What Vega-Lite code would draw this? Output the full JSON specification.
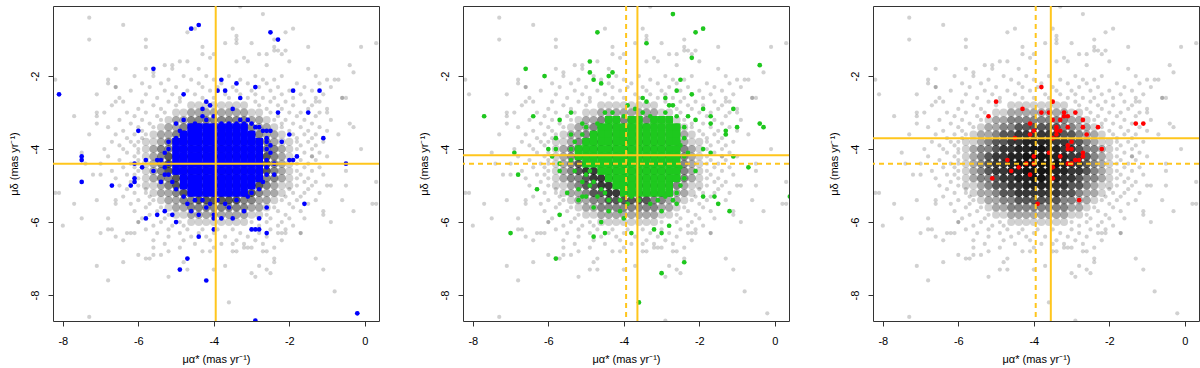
{
"$schema":"https://vega.github.io/schema/vega-lite/v6.json",
"background":"white",
"padding":{"left":7,"top":5,"right":2,"bottom":1},
"datasets":{
"vl":[{"p":1,"x":-3.95,"s":"solid"},{"p":2,"x":-3.64,"s":"solid"},{"p":2,"x":-3.94,"s":"dashed"},{"p":3,"x":-3.55,"s":"solid"},{"p":3,"x":-3.95,"s":"dashed"}],
"hl":[{"p":1,"y":-4.4,"s":"solid"},{"p":2,"y":-4.17,"s":"solid"},{"p":2,"y":-4.4,"s":"dashed"},{"p":3,"y":-3.7,"s":"solid"},{"p":3,"y":-4.4,"s":"dashed"}],
"gs":[
{"x":-4.6,"y":-2.8,"n":1},{"x":-4.4,"y":-2.8,"n":1},{"x":-4.2,"y":-2.8,"n":1},{"x":-4.0,"y":-2.8,"n":1},{"x":-3.8,"y":-2.8,"n":1},{"x":-3.6,"y":-2.8,"n":1},{"x":-3.4,"y":-2.8,"n":1},{"x":-3.2,"y":-2.8,"n":1},
{"x":-5.0,"y":-3.0,"n":1},{"x":-4.8,"y":-3.0,"n":1},{"x":-4.6,"y":-3.0,"n":2},{"x":-4.4,"y":-3.0,"n":2},{"x":-4.2,"y":-3.0,"n":2},{"x":-4.0,"y":-3.0,"n":2},{"x":-3.8,"y":-3.0,"n":2},{"x":-3.6,"y":-3.0,"n":2},{"x":-3.4,"y":-3.0,"n":2},{"x":-3.2,"y":-3.0,"n":2},{"x":-3.0,"y":-3.0,"n":1},{"x":-2.8,"y":-3.0,"n":1},
{"x":-5.2,"y":-3.2,"n":1},{"x":-5.0,"y":-3.2,"n":2},{"x":-4.8,"y":-3.2,"n":2},{"x":-4.6,"y":-3.2,"n":3},{"x":-4.4,"y":-3.2,"n":3},{"x":-4.2,"y":-3.2,"n":3},{"x":-4.0,"y":-3.2,"n":3},{"x":-3.8,"y":-3.2,"n":3},{"x":-3.6,"y":-3.2,"n":3},{"x":-3.4,"y":-3.2,"n":3},{"x":-3.2,"y":-3.2,"n":3},{"x":-3.0,"y":-3.2,"n":2},{"x":-2.8,"y":-3.2,"n":2},{"x":-2.6,"y":-3.2,"n":1},
{"x":-5.4,"y":-3.4,"n":1},{"x":-5.2,"y":-3.4,"n":2},{"x":-5.0,"y":-3.4,"n":2},{"x":-4.8,"y":-3.4,"n":3},{"x":-4.6,"y":-3.4,"n":3},{"x":-4.4,"y":-3.4,"n":5},{"x":-4.2,"y":-3.4,"n":5},{"x":-4.0,"y":-3.4,"n":5},{"x":-3.8,"y":-3.4,"n":5},{"x":-3.6,"y":-3.4,"n":5},{"x":-3.4,"y":-3.4,"n":5},{"x":-3.2,"y":-3.4,"n":3},{"x":-3.0,"y":-3.4,"n":3},{"x":-2.8,"y":-3.4,"n":2},{"x":-2.6,"y":-3.4,"n":2},{"x":-2.4,"y":-3.4,"n":1},
{"x":-5.6,"y":-3.6,"n":1},{"x":-5.4,"y":-3.6,"n":2},{"x":-5.2,"y":-3.6,"n":2},{"x":-5.0,"y":-3.6,"n":3},{"x":-4.8,"y":-3.6,"n":5},{"x":-4.6,"y":-3.6,"n":5},{"x":-4.4,"y":-3.6,"n":7},{"x":-4.2,"y":-3.6,"n":7},{"x":-4.0,"y":-3.6,"n":7},{"x":-3.8,"y":-3.6,"n":7},{"x":-3.6,"y":-3.6,"n":7},{"x":-3.4,"y":-3.6,"n":7},{"x":-3.2,"y":-3.6,"n":5},{"x":-3.0,"y":-3.6,"n":5},{"x":-2.8,"y":-3.6,"n":3},{"x":-2.6,"y":-3.6,"n":2},{"x":-2.4,"y":-3.6,"n":2},{"x":-2.2,"y":-3.6,"n":1},
{"x":-5.8,"y":-3.8,"n":1},{"x":-5.6,"y":-3.8,"n":1},{"x":-5.4,"y":-3.8,"n":2},{"x":-5.2,"y":-3.8,"n":3},{"x":-5.0,"y":-3.8,"n":5},{"x":-4.8,"y":-3.8,"n":5},{"x":-4.6,"y":-3.8,"n":7},{"x":-4.4,"y":-3.8,"n":7},{"x":-4.2,"y":-3.8,"n":9},{"x":-4.0,"y":-3.8,"n":9},{"x":-3.8,"y":-3.8,"n":9},{"x":-3.6,"y":-3.8,"n":9},{"x":-3.4,"y":-3.8,"n":7},{"x":-3.2,"y":-3.8,"n":7},{"x":-3.0,"y":-3.8,"n":5},{"x":-2.8,"y":-3.8,"n":5},{"x":-2.6,"y":-3.8,"n":3},{"x":-2.4,"y":-3.8,"n":2},{"x":-2.2,"y":-3.8,"n":1},{"x":-2.0,"y":-3.8,"n":1},
{"x":-5.8,"y":-4.0,"n":1},{"x":-5.6,"y":-4.0,"n":2},{"x":-5.4,"y":-4.0,"n":3},{"x":-5.2,"y":-4.0,"n":3},{"x":-5.0,"y":-4.0,"n":5},{"x":-4.8,"y":-4.0,"n":7},{"x":-4.6,"y":-4.0,"n":7},{"x":-4.4,"y":-4.0,"n":9},{"x":-4.2,"y":-4.0,"n":9},{"x":-4.0,"y":-4.0,"n":12},{"x":-3.8,"y":-4.0,"n":12},{"x":-3.6,"y":-4.0,"n":9},{"x":-3.4,"y":-4.0,"n":9},{"x":-3.2,"y":-4.0,"n":7},{"x":-3.0,"y":-4.0,"n":7},{"x":-2.8,"y":-4.0,"n":5},{"x":-2.6,"y":-4.0,"n":3},{"x":-2.4,"y":-4.0,"n":3},{"x":-2.2,"y":-4.0,"n":2},{"x":-2.0,"y":-4.0,"n":1},
{"x":-5.8,"y":-4.2,"n":1},{"x":-5.6,"y":-4.2,"n":2},{"x":-5.4,"y":-4.2,"n":3},{"x":-5.2,"y":-4.2,"n":5},{"x":-5.0,"y":-4.2,"n":7},{"x":-4.8,"y":-4.2,"n":7},{"x":-4.6,"y":-4.2,"n":9},{"x":-4.4,"y":-4.2,"n":9},{"x":-4.2,"y":-4.2,"n":12},{"x":-4.0,"y":-4.2,"n":12},{"x":-3.8,"y":-4.2,"n":12},{"x":-3.6,"y":-4.2,"n":12},{"x":-3.4,"y":-4.2,"n":9},{"x":-3.2,"y":-4.2,"n":9},{"x":-3.0,"y":-4.2,"n":7},{"x":-2.8,"y":-4.2,"n":7},{"x":-2.6,"y":-4.2,"n":5},{"x":-2.4,"y":-4.2,"n":3},{"x":-2.2,"y":-4.2,"n":2},{"x":-2.0,"y":-4.2,"n":1},
{"x":-5.8,"y":-4.4,"n":1},{"x":-5.6,"y":-4.4,"n":2},{"x":-5.4,"y":-4.4,"n":3},{"x":-5.2,"y":-4.4,"n":5},{"x":-5.0,"y":-4.4,"n":7},{"x":-4.8,"y":-4.4,"n":7},{"x":-4.6,"y":-4.4,"n":9},{"x":-4.4,"y":-4.4,"n":12},{"x":-4.2,"y":-4.4,"n":12},{"x":-4.0,"y":-4.4,"n":12},{"x":-3.8,"y":-4.4,"n":12},{"x":-3.6,"y":-4.4,"n":12},{"x":-3.4,"y":-4.4,"n":12},{"x":-3.2,"y":-4.4,"n":9},{"x":-3.0,"y":-4.4,"n":7},{"x":-2.8,"y":-4.4,"n":7},{"x":-2.6,"y":-4.4,"n":5},{"x":-2.4,"y":-4.4,"n":3},{"x":-2.2,"y":-4.4,"n":2},{"x":-2.0,"y":-4.4,"n":1},
{"x":-5.8,"y":-4.6,"n":1},{"x":-5.6,"y":-4.6,"n":2},{"x":-5.4,"y":-4.6,"n":3},{"x":-5.2,"y":-4.6,"n":5},{"x":-5.0,"y":-4.6,"n":7},{"x":-4.8,"y":-4.6,"n":7},{"x":-4.6,"y":-4.6,"n":9},{"x":-4.4,"y":-4.6,"n":9},{"x":-4.2,"y":-4.6,"n":12},{"x":-4.0,"y":-4.6,"n":12},{"x":-3.8,"y":-4.6,"n":12},{"x":-3.6,"y":-4.6,"n":12},{"x":-3.4,"y":-4.6,"n":9},{"x":-3.2,"y":-4.6,"n":9},{"x":-3.0,"y":-4.6,"n":7},{"x":-2.8,"y":-4.6,"n":7},{"x":-2.6,"y":-4.6,"n":5},{"x":-2.4,"y":-4.6,"n":3},{"x":-2.2,"y":-4.6,"n":2},{"x":-2.0,"y":-4.6,"n":1},
{"x":-5.8,"y":-4.8,"n":1},{"x":-5.6,"y":-4.8,"n":2},{"x":-5.4,"y":-4.8,"n":3},{"x":-5.2,"y":-4.8,"n":3},{"x":-5.0,"y":-4.8,"n":5},{"x":-4.8,"y":-4.8,"n":7},{"x":-4.6,"y":-4.8,"n":7},{"x":-4.4,"y":-4.8,"n":9},{"x":-4.2,"y":-4.8,"n":9},{"x":-4.0,"y":-4.8,"n":12},{"x":-3.8,"y":-4.8,"n":12},{"x":-3.6,"y":-4.8,"n":9},{"x":-3.4,"y":-4.8,"n":9},{"x":-3.2,"y":-4.8,"n":7},{"x":-3.0,"y":-4.8,"n":7},{"x":-2.8,"y":-4.8,"n":5},{"x":-2.6,"y":-4.8,"n":3},{"x":-2.4,"y":-4.8,"n":3},{"x":-2.2,"y":-4.8,"n":2},{"x":-2.0,"y":-4.8,"n":1},
{"x":-5.8,"y":-5.0,"n":1},{"x":-5.6,"y":-5.0,"n":1},{"x":-5.4,"y":-5.0,"n":2},{"x":-5.2,"y":-5.0,"n":3},{"x":-5.0,"y":-5.0,"n":5},{"x":-4.8,"y":-5.0,"n":5},{"x":-4.6,"y":-5.0,"n":7},{"x":-4.4,"y":-5.0,"n":7},{"x":-4.2,"y":-5.0,"n":9},{"x":-4.0,"y":-5.0,"n":9},{"x":-3.8,"y":-5.0,"n":9},{"x":-3.6,"y":-5.0,"n":9},{"x":-3.4,"y":-5.0,"n":7},{"x":-3.2,"y":-5.0,"n":7},{"x":-3.0,"y":-5.0,"n":5},{"x":-2.8,"y":-5.0,"n":5},{"x":-2.6,"y":-5.0,"n":3},{"x":-2.4,"y":-5.0,"n":2},{"x":-2.2,"y":-5.0,"n":1},{"x":-2.0,"y":-5.0,"n":1},
{"x":-5.6,"y":-5.2,"n":1},{"x":-5.4,"y":-5.2,"n":2},{"x":-5.2,"y":-5.2,"n":2},{"x":-5.0,"y":-5.2,"n":3},{"x":-4.8,"y":-5.2,"n":5},{"x":-4.6,"y":-5.2,"n":5},{"x":-4.4,"y":-5.2,"n":7},{"x":-4.2,"y":-5.2,"n":7},{"x":-4.0,"y":-5.2,"n":7},{"x":-3.8,"y":-5.2,"n":7},{"x":-3.6,"y":-5.2,"n":7},{"x":-3.4,"y":-5.2,"n":7},{"x":-3.2,"y":-5.2,"n":5},{"x":-3.0,"y":-5.2,"n":5},{"x":-2.8,"y":-5.2,"n":3},{"x":-2.6,"y":-5.2,"n":2},{"x":-2.4,"y":-5.2,"n":2},{"x":-2.2,"y":-5.2,"n":1},
{"x":-5.4,"y":-5.4,"n":1},{"x":-5.2,"y":-5.4,"n":2},{"x":-5.0,"y":-5.4,"n":2},{"x":-4.8,"y":-5.4,"n":3},{"x":-4.6,"y":-5.4,"n":3},{"x":-4.4,"y":-5.4,"n":5},{"x":-4.2,"y":-5.4,"n":5},{"x":-4.0,"y":-5.4,"n":5},{"x":-3.8,"y":-5.4,"n":5},{"x":-3.6,"y":-5.4,"n":5},{"x":-3.4,"y":-5.4,"n":5},{"x":-3.2,"y":-5.4,"n":3},{"x":-3.0,"y":-5.4,"n":3},{"x":-2.8,"y":-5.4,"n":2},{"x":-2.6,"y":-5.4,"n":2},{"x":-2.4,"y":-5.4,"n":1},
{"x":-5.2,"y":-5.6,"n":1},{"x":-5.0,"y":-5.6,"n":2},{"x":-4.8,"y":-5.6,"n":2},{"x":-4.6,"y":-5.6,"n":3},{"x":-4.4,"y":-5.6,"n":3},{"x":-4.2,"y":-5.6,"n":3},{"x":-4.0,"y":-5.6,"n":3},{"x":-3.8,"y":-5.6,"n":3},{"x":-3.6,"y":-5.6,"n":3},{"x":-3.4,"y":-5.6,"n":3},{"x":-3.2,"y":-5.6,"n":3},{"x":-3.0,"y":-5.6,"n":2},{"x":-2.8,"y":-5.6,"n":2},{"x":-2.6,"y":-5.6,"n":1},
{"x":-5.0,"y":-5.8,"n":1},{"x":-4.8,"y":-5.8,"n":1},{"x":-4.6,"y":-5.8,"n":2},{"x":-4.4,"y":-5.8,"n":2},{"x":-4.2,"y":-5.8,"n":2},{"x":-4.0,"y":-5.8,"n":2},{"x":-3.8,"y":-5.8,"n":2},{"x":-3.6,"y":-5.8,"n":2},{"x":-3.4,"y":-5.8,"n":2},{"x":-3.2,"y":-5.8,"n":2},{"x":-3.0,"y":-5.8,"n":1},{"x":-2.8,"y":-5.8,"n":1},
{"x":-4.6,"y":-6.0,"n":1},{"x":-4.4,"y":-6.0,"n":1},{"x":-4.2,"y":-6.0,"n":1},{"x":-4.0,"y":-6.0,"n":1},{"x":-3.8,"y":-6.0,"n":1},{"x":-3.6,"y":-6.0,"n":1},{"x":-3.4,"y":-6.0,"n":1},{"x":-3.2,"y":-6.0,"n":1}
],
"g":[
{"x":-6.1,"y":-2.0},{"x":-5.6,"y":-2.0},{"x":-4.8,"y":-2.0},{"x":-4.2,"y":-2.0},{"x":-3.6,"y":-2.0},{"x":-2.9,"y":-2.0},{"x":-2.2,"y":-2.0},{"x":-1.3,"y":-2.0},
{"x":-6.8,"y":-2.1},{"x":-5.2,"y":-2.1},{"x":-4.6,"y":-2.1},{"x":-4.0,"y":-2.1},{"x":-3.3,"y":-2.1},{"x":-2.7,"y":-2.1},{"x":-2.4,"y":-2.1},{"x":-1.0,"y":-2.1},{"x":-0.7,"y":-2.1},
{"x":-5.9,"y":-2.2},{"x":-5.4,"y":-2.2},{"x":-4.4,"y":-2.2},{"x":-3.8,"y":-2.2},{"x":-3.1,"y":-2.2},{"x":-2.6,"y":-2.2},{"x":-1.8,"y":-2.2},{"x":-1.2,"y":-2.2},
{"x":-6.6,"y":-2.3},{"x":-5.7,"y":-2.3},{"x":-5.0,"y":-2.3},{"x":-4.3,"y":-2.3},{"x":-3.9,"y":-2.3},{"x":-3.5,"y":-2.3},{"x":-2.8,"y":-2.3},{"x":-2.3,"y":-2.3},{"x":-1.6,"y":-2.3},{"x":-0.9,"y":-2.3},
{"x":-6.2,"y":-2.4},{"x":-5.3,"y":-2.4},{"x":-4.7,"y":-2.4},{"x":-4.1,"y":-2.4},{"x":-3.4,"y":-2.4},{"x":-3.0,"y":-2.4},{"x":-2.5,"y":-2.4},{"x":-2.0,"y":-2.4},{"x":-1.4,"y":-2.4},
{"x":-7.1,"y":-2.5},{"x":-5.8,"y":-2.5},{"x":-5.1,"y":-2.5},{"x":-4.5,"y":-2.5},{"x":-3.7,"y":-2.5},{"x":-3.3,"y":-2.5},{"x":-2.9,"y":-2.5},{"x":-2.2,"y":-2.5},{"x":-1.7,"y":-2.5},{"x":-1.1,"y":-2.5},
{"x":-6.5,"y":-2.6},{"x":-5.5,"y":-2.6},{"x":-4.9,"y":-2.6},{"x":-4.3,"y":-2.6},{"x":-4.0,"y":-2.6},{"x":-3.6,"y":-2.6},{"x":-3.1,"y":-2.6},{"x":-2.7,"y":-2.6},{"x":-2.4,"y":-2.6},{"x":-1.9,"y":-2.6},{"x":-1.3,"y":-2.6},{"x":-0.6,"y":-2.6},
{"x":-6.4,"y":-2.7},{"x":-5.9,"y":-2.7},{"x":-5.2,"y":-2.7},{"x":-4.9,"y":-2.7},{"x":-2.9,"y":-2.7},{"x":-2.5,"y":-2.7},{"x":-2.1,"y":-2.7},{"x":-1.6,"y":-2.7},{"x":-1.2,"y":-2.7},
{"x":-6.7,"y":-2.8},{"x":-5.6,"y":-2.8},{"x":-5.0,"y":-2.8},{"x":-2.8,"y":-2.8},{"x":-2.3,"y":-2.8},{"x":-1.9,"y":-2.8},{"x":-1.4,"y":-2.8},
{"x":-6.0,"y":-2.9},{"x":-5.4,"y":-2.9},{"x":-2.6,"y":-2.9},{"x":-2.2,"y":-2.9},{"x":-1.5,"y":-2.9},{"x":-1.0,"y":-2.9},
{"x":-6.9,"y":-3.0},{"x":-6.3,"y":-3.0},{"x":-5.8,"y":-3.0},{"x":-5.3,"y":-3.0},{"x":-2.5,"y":-3.0},{"x":-2.0,"y":-3.0},{"x":-1.7,"y":-3.0},{"x":-1.2,"y":-3.0},
{"x":-6.1,"y":-3.1},{"x":-5.5,"y":-3.1},{"x":-2.3,"y":-3.1},{"x":-1.8,"y":-3.1},{"x":-1.3,"y":-3.1},
{"x":-6.5,"y":-3.2},{"x":-5.9,"y":-3.2},{"x":-5.4,"y":-3.2},{"x":-2.4,"y":-3.2},{"x":-2.1,"y":-3.2},{"x":-1.6,"y":-3.2},{"x":-0.9,"y":-3.2},
{"x":-6.2,"y":-3.3},{"x":-5.7,"y":-3.3},{"x":-2.2,"y":-3.3},{"x":-1.9,"y":-3.3},{"x":-1.4,"y":-3.3},{"x":-0.4,"y":-3.3},
{"x":-6.8,"y":-3.4},{"x":-6.0,"y":-3.4},{"x":-5.6,"y":-3.4},{"x":-2.2,"y":-3.4},{"x":-1.7,"y":-3.4},{"x":-1.2,"y":-3.4},
{"x":-6.4,"y":-3.5},{"x":-5.9,"y":-3.5},{"x":-2.0,"y":-3.5},{"x":-1.5,"y":-3.5},{"x":-1.0,"y":-3.5},
{"x":-6.6,"y":-3.6},{"x":-6.1,"y":-3.6},{"x":-5.8,"y":-3.6},{"x":-1.9,"y":-3.6},{"x":-1.6,"y":-3.6},{"x":-1.3,"y":-3.6},
{"x":-6.3,"y":-3.7},{"x":-5.9,"y":-3.7},{"x":-1.8,"y":-3.7},{"x":-1.4,"y":-3.7},
{"x":-6.7,"y":-3.8},{"x":-6.2,"y":-3.8},{"x":-6.0,"y":-3.8},{"x":-1.8,"y":-3.8},{"x":-1.5,"y":-3.8},{"x":-1.1,"y":-3.8},
{"x":-6.5,"y":-3.9},{"x":-6.1,"y":-3.9},{"x":-1.7,"y":-3.9},{"x":-1.3,"y":-3.9},
{"x":-6.4,"y":-4.0},{"x":-6.0,"y":-4.0},{"x":-1.8,"y":-4.0},{"x":-1.4,"y":-4.0},{"x":-0.1,"y":-4.0},
{"x":-6.3,"y":-4.1},{"x":-6.0,"y":-4.1},{"x":-1.6,"y":-4.1},{"x":-1.2,"y":-4.1},
{"x":-6.8,"y":-4.2},{"x":-6.1,"y":-4.2},{"x":-1.8,"y":-4.2},{"x":-1.4,"y":-4.2},{"x":-1.0,"y":-4.2},
{"x":-6.5,"y":-4.3},{"x":-6.0,"y":-4.3},{"x":-1.7,"y":-4.3},{"x":-1.3,"y":-4.3},
{"x":-7.0,"y":-4.4},{"x":-6.2,"y":-4.4},{"x":-6.0,"y":-4.4},{"x":-1.8,"y":-4.4},{"x":-1.5,"y":-4.4},{"x":-0.5,"y":-4.4},
{"x":-6.4,"y":-4.5},{"x":-6.1,"y":-4.5},{"x":-1.6,"y":-4.5},{"x":-1.2,"y":-4.5},
{"x":-6.7,"y":-4.6},{"x":-6.0,"y":-4.6},{"x":-1.8,"y":-4.6},{"x":-1.4,"y":-4.6},
{"x":-6.3,"y":-4.7},{"x":-6.1,"y":-4.7},{"x":-1.7,"y":-4.7},{"x":-1.1,"y":-4.7},
{"x":-6.6,"y":-4.8},{"x":-6.0,"y":-4.8},{"x":-1.8,"y":-4.8},{"x":-1.5,"y":-4.8},
{"x":-6.2,"y":-4.9},{"x":-1.6,"y":-4.9},{"x":-1.3,"y":-4.9},
{"x":-6.5,"y":-5.0},{"x":-6.0,"y":-5.0},{"x":-1.8,"y":-5.0},{"x":-1.4,"y":-5.0},{"x":-0.9,"y":-5.0},
{"x":-6.3,"y":-5.1},{"x":-5.8,"y":-5.1},{"x":-2.0,"y":-5.1},{"x":-1.5,"y":-5.1},
{"x":-6.1,"y":-5.2},{"x":-5.8,"y":-5.2},{"x":-1.9,"y":-5.2},{"x":-1.6,"y":-5.2},{"x":-1.2,"y":-5.2},
{"x":-6.4,"y":-5.3},{"x":-5.7,"y":-5.3},{"x":-2.1,"y":-5.3},{"x":-1.7,"y":-5.3},
{"x":-6.0,"y":-5.4},{"x":-5.6,"y":-5.4},{"x":-2.2,"y":-5.4},{"x":-1.8,"y":-5.4},{"x":-1.3,"y":-5.4},
{"x":-6.2,"y":-5.5},{"x":-5.7,"y":-5.5},{"x":-2.0,"y":-5.5},{"x":-1.5,"y":-5.5},
{"x":-5.8,"y":-5.6},{"x":-5.4,"y":-5.6},{"x":-2.4,"y":-5.6},{"x":-1.9,"y":-5.6},
{"x":-6.1,"y":-5.7},{"x":-5.5,"y":-5.7},{"x":-2.3,"y":-5.7},{"x":-1.7,"y":-5.7},{"x":-1.1,"y":-5.7},
{"x":-5.7,"y":-5.8},{"x":-5.2,"y":-5.8},{"x":-2.6,"y":-5.8},{"x":-2.1,"y":-5.8},
{"x":-5.9,"y":-5.9},{"x":-5.3,"y":-5.9},{"x":-2.5,"y":-5.9},{"x":-2.0,"y":-5.9},{"x":-1.6,"y":-5.9},
{"x":-6.0,"y":-6.0},{"x":-5.4,"y":-6.0},{"x":-4.9,"y":-6.0},{"x":-3.0,"y":-6.0},{"x":-2.6,"y":-6.0},{"x":-2.2,"y":-6.0},
{"x":-5.6,"y":-6.1},{"x":-5.1,"y":-6.1},{"x":-4.8,"y":-6.1},{"x":-2.8,"y":-6.1},{"x":-2.3,"y":-6.1},{"x":-1.9,"y":-6.1},
{"x":-5.8,"y":-6.2},{"x":-5.2,"y":-6.2},{"x":-4.7,"y":-6.2},{"x":-4.3,"y":-6.2},{"x":-3.9,"y":-6.2},{"x":-3.5,"y":-6.2},{"x":-3.0,"y":-6.2},{"x":-2.5,"y":-6.2},{"x":-2.1,"y":-6.2},
{"x":-6.1,"y":-6.3},{"x":-5.5,"y":-6.3},{"x":-4.9,"y":-6.3},{"x":-4.4,"y":-6.3},{"x":-4.0,"y":-6.3},{"x":-3.3,"y":-6.3},{"x":-2.8,"y":-6.3},{"x":-2.3,"y":-6.3},{"x":-1.7,"y":-6.3},
{"x":-5.2,"y":-6.4},{"x":-4.6,"y":-6.4},{"x":-4.2,"y":-6.4},{"x":-3.7,"y":-6.4},{"x":-3.1,"y":-6.4},{"x":-2.6,"y":-6.4},
{"x":-6.4,"y":-6.5},{"x":-5.6,"y":-6.5},{"x":-4.8,"y":-6.5},{"x":-4.1,"y":-6.5},{"x":-3.4,"y":-6.5},{"x":-2.9,"y":-6.5},{"x":-2.2,"y":-6.5},
{"x":-5.3,"y":-6.6},{"x":-4.5,"y":-6.6},{"x":-3.8,"y":-6.6},{"x":-3.2,"y":-6.6},{"x":-2.7,"y":-6.6},
{"x":-5.6,"y":-6.7},{"x":-4.9,"y":-6.7},{"x":-4.0,"y":-6.7},{"x":-3.1,"y":-6.7},{"x":-3.0,"y":-6.7},{"x":-2.4,"y":-6.7},
{"x":-5.2,"y":-6.8},{"x":-4.3,"y":-6.8},{"x":-3.5,"y":-6.8},{"x":-2.6,"y":-6.8},
{"x":-7.3,"y":-0.4},{"x":-6.4,"y":-0.6},{"x":-3.3,"y":-0.1},{"x":-2.7,"y":-0.3},{"x":-4.7,"y":-0.8},{"x":-4.5,"y":-0.7},{"x":-3.5,"y":-0.7},{"x":-2.1,"y":-0.8},{"x":-1.9,"y":-0.7},{"x":-7.3,"y":-1.0},{"x":-5.8,"y":-1.0},{"x":-5.8,"y":-1.2},{"x":-3.4,"y":-0.9},{"x":-3.4,"y":-1.0},{"x":-3.4,"y":-1.1},{"x":-3.7,"y":-1.1},{"x":-3.0,"y":-1.1},{"x":-2.4,"y":-1.2},{"x":-2.4,"y":-1.3},{"x":-2.4,"y":-1.0},{"x":-4.3,"y":-1.2},{"x":-4.3,"y":-1.4},{"x":-4.0,"y":-1.4},{"x":-2.6,"y":-1.4},{"x":-2.3,"y":-1.3},{"x":-2.2,"y":-1.4},{"x":-2.1,"y":-1.3},{"x":-1.5,"y":-1.2},{"x":-0.1,"y":-1.2},{"x":0.3,"y":-1.1},{"x":-2.0,"y":-1.6},{"x":-3.4,"y":-1.6},{"x":-3.1,"y":-1.6},{"x":-2.6,"y":-1.7},{"x":-4.7,"y":-1.6},{"x":-5.3,"y":-1.7},{"x":-5.1,"y":-1.7},{"x":-5.1,"y":-1.8},{"x":-4.9,"y":-1.6},{"x":-6.6,"y":-1.8},{"x":-5.8,"y":-1.8},{"x":-5.6,"y":-1.9},{"x":-4.4,"y":-1.8},{"x":-0.4,"y":-1.7},{"x":-0.3,"y":-1.9},{"x":-1.5,"y":-1.8},{"x":-4.1,"y":-1.5},{"x":-3.2,"y":-1.5},{"x":-2.8,"y":-1.4},
{"x":-8.2,"y":-2.1},{"x":-8.1,"y":-2.5},{"x":-7.7,"y":-3.1},{"x":-7.1,"y":-3.0},{"x":-7.1,"y":-3.1},{"x":-7.1,"y":-3.3},{"x":-6.6,"y":-2.7},{"x":-6.8,"y":-2.2},{"x":-6.6,"y":-2.3},{"x":-7.3,"y":-3.6},{"x":-6.9,"y":-4.0},{"x":-7.5,"y":-4.1},{"x":-7.4,"y":-4.4},{"x":-7.0,"y":-4.7},{"x":-7.2,"y":-4.7},{"x":-8.1,"y":-5.2},{"x":-8.2,"y":-5.2},{"x":-8.0,"y":-6.1},{"x":-7.7,"y":-5.5},{"x":-7.5,"y":-5.9},{"x":-7.1,"y":-5.4},{"x":-7.0,"y":-6.3},{"x":-6.8,"y":-6.2},{"x":-6.7,"y":-6.2},{"x":-6.6,"y":-5.4},{"x":-6.6,"y":-5.5},{"x":-6.8,"y":-5.9},{"x":-6.6,"y":-6.4},{"x":-6.3,"y":-6.3},{"x":-6.2,"y":-6.3},{"x":-7.1,"y":-7.2},{"x":-6.8,"y":-7.6},{"x":-7.3,"y":-8.6},{"x":-6.0,"y":-6.9},{"x":-5.8,"y":-7.0},{"x":-5.7,"y":-7.0},{"x":-5.6,"y":-6.9},{"x":-5.4,"y":-6.9},{"x":-6.0,"y":-6.0},{"x":-6.4,"y":-7.1},{"x":-5.2,"y":-7.5},{"x":-4.9,"y":-7.3},{"x":-4.8,"y":-7.1},{"x":-4.7,"y":-7.0},{"x":-4.7,"y":-7.3},{"x":-4.1,"y":-6.8},{"x":-4.0,"y":-7.3},{"x":-3.7,"y":-7.2},{"x":-3.6,"y":-8.2},{"x":-3.5,"y":-6.6},{"x":-3.4,"y":-6.8},{"x":-3.2,"y":-6.7},{"x":-3.0,"y":-7.4},{"x":-2.9,"y":-7.5},{"x":-2.8,"y":-7.2},{"x":-2.7,"y":-6.8},{"x":-2.6,"y":-7.3},{"x":-2.5,"y":-7.4},{"x":-2.4,"y":-7.0},{"x":-2.4,"y":-7.1},{"x":-2.2,"y":-6.3},{"x":-2.1,"y":-6.3},{"x":-1.7,"y":-6.3},{"x":-1.3,"y":-7.0},{"x":-1.1,"y":-7.3},{"x":-0.8,"y":-7.9},{"x":-0.2,"y":-8.5},{"x":-2.9,"y":-8.7},{"x":-0.6,"y":-5.4},{"x":0.3,"y":-4.9},{"x":0.3,"y":-5.5},{"x":-0.5,"y":-5.0},{"x":-1.1,"y":-5.8},{"x":-1.4,"y":-4.2},{"x":-0.3,"y":-5.7},{"x":0.2,"y":-5.5},{"x":-0.6,"y":-2.6},{"x":-0.8,"y":-2.1},{"x":-1.3,"y":-2.7},{"x":-0.3,"y":-3.4},{"x":-0.7,"y":-3.6},{"x":-0.5,"y":-4.6},{"x":-1.0,"y":-5.0},{"x":-0.9,"y":-6.0},{"x":-1.0,"y":-3.0},{"x":-0.5,"y":-2.6}
],
"bs":[
{"x":-4.6,"y":-3.4},{"x":-4.4,"y":-3.4},{"x":-4.2,"y":-3.4},{"x":-4.0,"y":-3.4},{"x":-3.8,"y":-3.4},{"x":-3.6,"y":-3.4},{"x":-3.4,"y":-3.4},{"x":-3.2,"y":-3.4},
{"x":-4.8,"y":-3.6},{"x":-4.6,"y":-3.6},{"x":-4.4,"y":-3.6},{"x":-4.2,"y":-3.6},{"x":-4.0,"y":-3.6},{"x":-3.8,"y":-3.6},{"x":-3.6,"y":-3.6},{"x":-3.4,"y":-3.6},{"x":-3.2,"y":-3.6},{"x":-3.0,"y":-3.6},
{"x":-5.0,"y":-3.8},{"x":-4.8,"y":-3.8},{"x":-4.6,"y":-3.8},{"x":-4.4,"y":-3.8},{"x":-4.2,"y":-3.8},{"x":-4.0,"y":-3.8},{"x":-3.8,"y":-3.8},{"x":-3.6,"y":-3.8},{"x":-3.4,"y":-3.8},{"x":-3.2,"y":-3.8},{"x":-3.0,"y":-3.8},{"x":-2.8,"y":-3.8},
{"x":-5.0,"y":-4.0},{"x":-4.8,"y":-4.0},{"x":-4.6,"y":-4.0},{"x":-4.4,"y":-4.0},{"x":-4.2,"y":-4.0},{"x":-4.0,"y":-4.0},{"x":-3.8,"y":-4.0},{"x":-3.6,"y":-4.0},{"x":-3.4,"y":-4.0},{"x":-3.2,"y":-4.0},{"x":-3.0,"y":-4.0},{"x":-2.8,"y":-4.0},
{"x":-5.0,"y":-4.2},{"x":-4.8,"y":-4.2},{"x":-4.6,"y":-4.2},{"x":-4.4,"y":-4.2},{"x":-4.2,"y":-4.2},{"x":-4.0,"y":-4.2},{"x":-3.8,"y":-4.2},{"x":-3.6,"y":-4.2},{"x":-3.4,"y":-4.2},{"x":-3.2,"y":-4.2},{"x":-3.0,"y":-4.2},{"x":-2.8,"y":-4.2},
{"x":-5.0,"y":-4.4},{"x":-4.8,"y":-4.4},{"x":-4.6,"y":-4.4},{"x":-4.4,"y":-4.4},{"x":-4.2,"y":-4.4},{"x":-4.0,"y":-4.4},{"x":-3.8,"y":-4.4},{"x":-3.6,"y":-4.4},{"x":-3.4,"y":-4.4},{"x":-3.2,"y":-4.4},{"x":-3.0,"y":-4.4},{"x":-2.8,"y":-4.4},
{"x":-5.0,"y":-4.6},{"x":-4.8,"y":-4.6},{"x":-4.6,"y":-4.6},{"x":-4.4,"y":-4.6},{"x":-4.2,"y":-4.6},{"x":-4.0,"y":-4.6},{"x":-3.8,"y":-4.6},{"x":-3.6,"y":-4.6},{"x":-3.4,"y":-4.6},{"x":-3.2,"y":-4.6},{"x":-3.0,"y":-4.6},{"x":-2.8,"y":-4.6},
{"x":-4.8,"y":-4.8},{"x":-4.6,"y":-4.8},{"x":-4.4,"y":-4.8},{"x":-4.2,"y":-4.8},{"x":-4.0,"y":-4.8},{"x":-3.8,"y":-4.8},{"x":-3.6,"y":-4.8},{"x":-3.4,"y":-4.8},{"x":-3.2,"y":-4.8},{"x":-3.0,"y":-4.8},{"x":-2.8,"y":-4.8},
{"x":-4.8,"y":-5.0},{"x":-4.6,"y":-5.0},{"x":-4.4,"y":-5.0},{"x":-4.2,"y":-5.0},{"x":-4.0,"y":-5.0},{"x":-3.8,"y":-5.0},{"x":-3.6,"y":-5.0},{"x":-3.4,"y":-5.0},{"x":-3.2,"y":-5.0},{"x":-3.0,"y":-5.0},
{"x":-4.6,"y":-5.2},{"x":-4.4,"y":-5.2},{"x":-4.2,"y":-5.2},{"x":-4.0,"y":-5.2},{"x":-3.8,"y":-5.2},{"x":-3.6,"y":-5.2},{"x":-3.4,"y":-5.2},{"x":-3.2,"y":-5.2}
],
"b":[
{"x":-4.6,"y":-0.7},{"x":-4.4,"y":-0.6},{"x":-2.5,"y":-0.8},{"x":-2.3,"y":-1.0},{"x":-5.6,"y":-1.8},{"x":-3.8,"y":-2.1},{"x":-3.4,"y":-2.2},{"x":-2.9,"y":-2.3},{"x":-3.9,"y":-2.4},{"x":-3.7,"y":-2.4},{"x":-4.8,"y":-2.5},{"x":-1.9,"y":-2.4},{"x":-1.2,"y":-2.4},{"x":-8.1,"y":-2.5},{"x":-3.3,"y":-2.6},{"x":-4.2,"y":-2.7},{"x":-4.1,"y":-2.8},{"x":-3.5,"y":-2.9},{"x":-4.3,"y":-2.9},{"x":-2.3,"y":-3.0},{"x":-1.5,"y":-3.0},{"x":-4.0,"y":-3.1},{"x":-4.8,"y":-3.2},{"x":-3.3,"y":-3.2},{"x":-3.1,"y":-3.2},{"x":-4.3,"y":-3.1},{"x":-5.0,"y":-3.3},{"x":-3.0,"y":-3.3},{"x":-2.7,"y":-3.5},{"x":-2.6,"y":-3.5},{"x":-2.5,"y":-3.5},{"x":-6.0,"y":-3.5},{"x":-2.0,"y":-3.6},{"x":-2.6,"y":-3.7},{"x":-1.1,"y":-3.7},{"x":-2.2,"y":-3.8},{"x":-7.5,"y":-4.2},{"x":-7.5,"y":-4.3},{"x":-1.8,"y":-4.2},{"x":-2.0,"y":-4.3},{"x":-1.9,"y":-4.3},{"x":-0.5,"y":-4.4},{"x":-2.4,"y":-4.4},{"x":-6.1,"y":-4.4},{"x":-5.9,"y":-4.5},{"x":-5.8,"y":-4.3},{"x":-7.5,"y":-4.9},{"x":-6.7,"y":-5.0},{"x":-6.2,"y":-5.0},{"x":-6.1,"y":-4.8},{"x":-6.1,"y":-4.9},{"x":-5.6,"y":-4.6},{"x":-2.4,"y":-4.7},{"x":-1.6,"y":-5.5},{"x":-2.6,"y":-5.6},{"x":-5.8,"y":-5.9},{"x":-5.5,"y":-5.8},{"x":-5.3,"y":-5.7},{"x":-5.1,"y":-5.8},{"x":-5.0,"y":-6.0},{"x":-4.6,"y":-5.7},{"x":-4.4,"y":-5.8},{"x":-4.0,"y":-5.8},{"x":-4.0,"y":-5.9},{"x":-3.8,"y":-5.9},{"x":-3.5,"y":-5.9},{"x":-3.2,"y":-5.7},{"x":-2.8,"y":-5.9},{"x":-4.0,"y":-6.2},{"x":-3.0,"y":-6.2},{"x":-2.9,"y":-6.2},{"x":-2.8,"y":-6.2},{"x":-2.6,"y":-6.3},{"x":-4.4,"y":-6.4},{"x":-4.7,"y":-7.0},{"x":-4.9,"y":-7.3},{"x":-4.2,"y":-7.6},{"x":-2.9,"y":-8.7},{"x":-0.2,"y":-8.5},
{"x":-4.5,"y":-3.3},{"x":-4.2,"y":-3.2},{"x":-3.8,"y":-3.3},{"x":-3.6,"y":-3.3},{"x":-3.4,"y":-3.3},{"x":-3.2,"y":-3.3},{"x":-2.9,"y":-3.4},{"x":-2.8,"y":-3.4},{"x":-5.2,"y":-3.8},{"x":-5.2,"y":-4.0},{"x":-5.3,"y":-4.1},{"x":-5.2,"y":-4.4},{"x":-5.3,"y":-4.5},{"x":-5.2,"y":-4.7},{"x":-5.1,"y":-4.9},{"x":-5.0,"y":-5.1},{"x":-5.4,"y":-4.3},{"x":-5.5,"y":-4.3},{"x":-5.3,"y":-4.7},{"x":-5.4,"y":-4.9},{"x":-5.0,"y":-3.7},{"x":-4.9,"y":-3.5},{"x":-2.6,"y":-3.8},{"x":-2.6,"y":-4.0},{"x":-2.5,"y":-4.1},{"x":-2.6,"y":-4.3},{"x":-2.6,"y":-4.5},{"x":-2.6,"y":-4.7},{"x":-2.7,"y":-4.9},{"x":-2.8,"y":-5.1},{"x":-2.5,"y":-3.9},{"x":-4.8,"y":-5.3},{"x":-4.5,"y":-5.4},{"x":-4.3,"y":-5.4},{"x":-4.1,"y":-5.5},{"x":-3.9,"y":-5.4},{"x":-3.7,"y":-5.5},{"x":-3.4,"y":-5.4},{"x":-3.1,"y":-5.3},{"x":-3.0,"y":-5.2},{"x":-4.7,"y":-5.5},{"x":-4.2,"y":-5.6},{"x":-3.6,"y":-5.6}
],
"cs":[
{"x":-4.4,"y":-3.2},{"x":-4.2,"y":-3.2},{"x":-3.8,"y":-3.2},{"x":-3.6,"y":-3.2},{"x":-3.2,"y":-3.2},{"x":-3.0,"y":-3.2},{"x":-2.8,"y":-3.2},
{"x":-4.6,"y":-3.4},{"x":-4.4,"y":-3.4},{"x":-4.2,"y":-3.4},{"x":-4.0,"y":-3.4},{"x":-3.8,"y":-3.4},{"x":-3.6,"y":-3.4},{"x":-3.4,"y":-3.4},{"x":-3.2,"y":-3.4},{"x":-3.0,"y":-3.4},{"x":-2.8,"y":-3.4},{"x":-2.6,"y":-3.4},
{"x":-4.8,"y":-3.6},{"x":-4.6,"y":-3.6},{"x":-4.4,"y":-3.6},{"x":-4.2,"y":-3.6},{"x":-4.0,"y":-3.6},{"x":-3.8,"y":-3.6},{"x":-3.6,"y":-3.6},{"x":-3.4,"y":-3.6},{"x":-3.2,"y":-3.6},{"x":-3.0,"y":-3.6},{"x":-2.8,"y":-3.6},{"x":-2.6,"y":-3.6},
{"x":-5.0,"y":-3.8},{"x":-4.8,"y":-3.8},{"x":-4.6,"y":-3.8},{"x":-4.4,"y":-3.8},{"x":-4.2,"y":-3.8},{"x":-4.0,"y":-3.8},{"x":-3.8,"y":-3.8},{"x":-3.6,"y":-3.8},{"x":-3.4,"y":-3.8},{"x":-3.2,"y":-3.8},{"x":-3.0,"y":-3.8},{"x":-2.8,"y":-3.8},{"x":-2.6,"y":-3.8},
{"x":-5.2,"y":-4.0},{"x":-5.0,"y":-4.0},{"x":-4.8,"y":-4.0},{"x":-4.6,"y":-4.0},{"x":-4.4,"y":-4.0},{"x":-4.2,"y":-4.0},{"x":-4.0,"y":-4.0},{"x":-3.8,"y":-4.0},{"x":-3.6,"y":-4.0},{"x":-3.4,"y":-4.0},{"x":-3.2,"y":-4.0},{"x":-3.0,"y":-4.0},{"x":-2.8,"y":-4.0},{"x":-2.6,"y":-4.0},
{"x":-5.2,"y":-4.2},{"x":-5.0,"y":-4.2},{"x":-4.8,"y":-4.2},{"x":-4.6,"y":-4.2},{"x":-4.4,"y":-4.2},{"x":-4.2,"y":-4.2},{"x":-4.0,"y":-4.2},{"x":-3.8,"y":-4.2},{"x":-3.6,"y":-4.2},{"x":-3.4,"y":-4.2},{"x":-3.2,"y":-4.2},{"x":-3.0,"y":-4.2},{"x":-2.8,"y":-4.2},{"x":-2.6,"y":-4.2},
{"x":-5.0,"y":-4.4},{"x":-4.8,"y":-4.4},{"x":-4.6,"y":-4.4},{"x":-4.4,"y":-4.4},{"x":-4.2,"y":-4.4},{"x":-4.0,"y":-4.4},{"x":-3.8,"y":-4.4},{"x":-3.6,"y":-4.4},{"x":-3.4,"y":-4.4},{"x":-3.2,"y":-4.4},{"x":-3.0,"y":-4.4},{"x":-2.8,"y":-4.4},{"x":-2.6,"y":-4.4},
{"x":-4.6,"y":-4.6},{"x":-4.4,"y":-4.6},{"x":-4.2,"y":-4.6},{"x":-4.0,"y":-4.6},{"x":-3.8,"y":-4.6},{"x":-3.6,"y":-4.6},{"x":-3.4,"y":-4.6},{"x":-3.2,"y":-4.6},{"x":-3.0,"y":-4.6},{"x":-2.8,"y":-4.6},{"x":-2.6,"y":-4.6},
{"x":-4.4,"y":-4.8},{"x":-4.2,"y":-4.8},{"x":-4.0,"y":-4.8},{"x":-3.8,"y":-4.8},{"x":-3.6,"y":-4.8},{"x":-3.4,"y":-4.8},{"x":-3.2,"y":-4.8},{"x":-3.0,"y":-4.8},{"x":-2.8,"y":-4.8},{"x":-2.6,"y":-4.8},
{"x":-4.2,"y":-5.0},{"x":-4.0,"y":-5.0},{"x":-3.8,"y":-5.0},{"x":-3.6,"y":-5.0},{"x":-3.4,"y":-5.0},{"x":-3.2,"y":-5.0},{"x":-3.0,"y":-5.0},{"x":-2.8,"y":-5.0},
{"x":-4.0,"y":-5.2},{"x":-3.8,"y":-5.2},{"x":-3.6,"y":-5.2},{"x":-3.4,"y":-5.2},{"x":-3.2,"y":-5.2},{"x":-3.0,"y":-5.2},{"x":-2.8,"y":-5.2}
],
"c":[
{"x":-2.7,"y":-0.3},{"x":-1.9,"y":-0.7},{"x":-2.1,"y":-0.8},{"x":-4.7,"y":-0.8},{"x":-3.4,"y":-1.1},{"x":-2.2,"y":-1.5},{"x":-4.9,"y":-1.6},{"x":-0.4,"y":-1.7},{"x":-6.6,"y":-1.8},{"x":-4.3,"y":-1.9},{"x":-4.4,"y":-2.0},{"x":-4.9,"y":-1.9},{"x":-6.1,"y":-2.0},{"x":-4.8,"y":-2.1},{"x":-4.6,"y":-2.2},{"x":-2.5,"y":-2.1},{"x":-2.6,"y":-2.4},{"x":-2.2,"y":-2.5},{"x":-3.5,"y":-2.6},{"x":-2.9,"y":-2.6},{"x":-3.4,"y":-2.7},{"x":-3.9,"y":-2.8},{"x":-2.7,"y":-2.8},{"x":-2.8,"y":-2.8},{"x":-1.9,"y":-2.9},{"x":-1.1,"y":-2.9},{"x":-3.7,"y":-2.9},{"x":-7.7,"y":-3.1},{"x":-6.4,"y":-3.1},{"x":-5.4,"y":-3.0},{"x":-2.3,"y":-3.1},{"x":-2.1,"y":-3.2},{"x":-1.7,"y":-3.1},{"x":-0.4,"y":-3.3},{"x":-0.3,"y":-3.4},{"x":-5.7,"y":-3.2},{"x":-5.1,"y":-3.3},{"x":-1.3,"y":-3.5},{"x":-1.3,"y":-3.6},{"x":-1.0,"y":-3.4},{"x":-1.7,"y":-3.3},{"x":-5.8,"y":-3.7},{"x":-5.4,"y":-3.6},{"x":-6.0,"y":-4.0},{"x":-5.8,"y":-4.0},{"x":-6.9,"y":-4.1},{"x":-1.7,"y":-4.1},{"x":-1.9,"y":-4.0},{"x":-1.1,"y":-4.2},{"x":-0.7,"y":-4.5},{"x":-5.9,"y":-4.2},{"x":-5.7,"y":-4.4},{"x":-5.7,"y":-4.6},{"x":-6.8,"y":-4.7},{"x":-2.1,"y":-4.6},{"x":0.4,"y":-5.3},{"x":-6.3,"y":-5.1},{"x":-5.5,"y":-5.2},{"x":-5.1,"y":-5.3},{"x":-5.2,"y":-5.4},{"x":-1.9,"y":-5.3},{"x":-1.6,"y":-5.3},{"x":-1.5,"y":-5.5},{"x":-1.2,"y":-5.7},{"x":-2.6,"y":-5.5},{"x":-5.7,"y":-5.8},{"x":-4.8,"y":-5.6},{"x":-4.4,"y":-5.7},{"x":-4.1,"y":-5.7},{"x":-3.0,"y":-5.7},{"x":-4.6,"y":-6.0},{"x":-4.0,"y":-5.9},{"x":-3.8,"y":-6.3},{"x":-4.5,"y":-6.3},{"x":-3.2,"y":-6.2},{"x":-3.0,"y":-6.3},{"x":-2.8,"y":-6.1},{"x":-7.0,"y":-6.3},{"x":-4.8,"y":-6.4},{"x":-5.8,"y":-7.0},{"x":-2.4,"y":-7.1},{"x":-3.0,"y":-7.4},{"x":-3.6,"y":-8.2},
{"x":-5.0,"y":-4.7},{"x":-5.1,"y":-4.9},{"x":-4.9,"y":-5.0},{"x":-5.2,"y":-5.1},{"x":-4.8,"y":-4.9},{"x":-4.6,"y":-5.1},{"x":-4.7,"y":-5.3},{"x":-4.5,"y":-5.2},{"x":-4.4,"y":-5.4},{"x":-5.0,"y":-5.3},{"x":-4.9,"y":-4.6},{"x":-5.3,"y":-4.6},{"x":-5.4,"y":-4.3},{"x":-5.4,"y":-4.0},{"x":-5.3,"y":-3.8},{"x":-5.1,"y":-3.6},{"x":-5.0,"y":-3.4},{"x":-4.5,"y":-3.0},{"x":-4.3,"y":-3.0},{"x":-4.0,"y":-3.1},{"x":-3.5,"y":-3.0},{"x":-3.3,"y":-3.1},{"x":-2.9,"y":-3.0},{"x":-2.6,"y":-3.1},{"x":-4.7,"y":-3.3},{"x":-2.4,"y":-3.4},{"x":-2.4,"y":-3.7},{"x":-2.5,"y":-3.9},{"x":-2.4,"y":-4.2},{"x":-2.5,"y":-4.5},{"x":-2.4,"y":-4.8},{"x":-2.5,"y":-5.0},{"x":-2.6,"y":-5.2},{"x":-2.3,"y":-4.1},{"x":-4.1,"y":-5.4},{"x":-3.9,"y":-5.5},{"x":-3.6,"y":-5.4},{"x":-3.3,"y":-5.5},{"x":-3.1,"y":-5.4},{"x":-2.9,"y":-5.3},{"x":-3.8,"y":-5.3},{"x":-2.7,"y":-5.4}
],
"r":[
{"x":-3.8,"y":-2.3},{"x":-5.0,"y":-2.7},{"x":-3.5,"y":-2.7},{"x":-4.3,"y":-2.9},{"x":-5.2,"y":-3.1},{"x":-3.8,"y":-3.0},{"x":-3.6,"y":-3.0},{"x":-3.2,"y":-3.0},{"x":-3.2,"y":-3.1},{"x":-3.1,"y":-3.1},{"x":-2.9,"y":-3.0},{"x":-3.5,"y":-3.2},{"x":-3.3,"y":-3.2},{"x":-3.1,"y":-3.4},{"x":-2.7,"y":-3.2},{"x":-2.7,"y":-3.4},{"x":-2.3,"y":-3.4},{"x":-1.3,"y":-3.3},{"x":-1.1,"y":-3.3},{"x":-4.1,"y":-3.3},{"x":-4.0,"y":-3.5},{"x":-4.1,"y":-3.6},{"x":-4.5,"y":-3.7},{"x":-3.4,"y":-3.5},{"x":-3.4,"y":-3.4},{"x":-3.4,"y":-3.6},{"x":-3.3,"y":-3.5},{"x":-2.6,"y":-3.6},{"x":-3.5,"y":-3.7},{"x":-3.1,"y":-3.9},{"x":-3.1,"y":-4.0},{"x":-3.0,"y":-3.8},{"x":-3.0,"y":-4.0},{"x":-2.2,"y":-4.0},{"x":-2.7,"y":-4.1},{"x":-2.7,"y":-4.2},{"x":-3.6,"y":-4.1},{"x":-3.3,"y":-4.2},{"x":-4.0,"y":-4.2},{"x":-4.7,"y":-4.3},{"x":-4.0,"y":-4.4},{"x":-4.2,"y":-4.4},{"x":-2.9,"y":-4.3},{"x":-2.8,"y":-4.3},{"x":-3.1,"y":-4.4},{"x":-3.0,"y":-4.4},{"x":-4.4,"y":-4.5},{"x":-4.6,"y":-4.6},{"x":-3.5,"y":-4.5},{"x":-4.1,"y":-4.7},{"x":-5.1,"y":-4.8},{"x":-3.5,"y":-4.8},{"x":-2.8,"y":-5.4},{"x":-3.9,"y":-5.5}
]
},
"hconcat":[
{"width":326,"height":315,"layer":[
{"data":{"name":"gs"},"mark":{"type":"circle","size":64,"color":"#000","clip":true},"encoding":{"x":{"field":"x","type":"quantitative","scale":{"domain":[-8.26,0.375],"nice":false,"zero":false},"axis":{"values":[-8,-6,-4,-2,0],"title":"μα* (mas yr⁻¹)"}},"y":{"field":"y","type":"quantitative","scale":{"domain":[-8.71,-0.08],"nice":false,"zero":false},"axis":{"values":[-8,-6,-4,-2],"title":"μδ (mas yr⁻¹)"}},"opacity":{"field":"n","type":"quantitative","scale":{"domain":[1,2,3,5,7,9,12],"range":[0.18,0.34,0.48,0.66,0.78,0.86,0.92]},"legend":null}}},
{"data":{"name":"g"},"mark":{"type":"circle","size":18,"color":"#000","opacity":0.18,"clip":true},"encoding":{"x":{"field":"x","type":"quantitative","scale":{"domain":[-8.26,0.375],"nice":false,"zero":false}},"y":{"field":"y","type":"quantitative","scale":{"domain":[-8.71,-0.08],"nice":false,"zero":false}}}},
{"data":{"name":"bs"},"mark":{"type":"square","size":60,"color":"#0000FF","opacity":1,"clip":true},"encoding":{"x":{"field":"x","type":"quantitative","scale":{"domain":[-8.26,0.375],"nice":false,"zero":false}},"y":{"field":"y","type":"quantitative","scale":{"domain":[-8.71,-0.08],"nice":false,"zero":false}}}},
{"data":{"name":"b"},"mark":{"type":"circle","size":22,"color":"#0000FF","opacity":1,"clip":true},"encoding":{"x":{"field":"x","type":"quantitative","scale":{"domain":[-8.26,0.375],"nice":false,"zero":false}},"y":{"field":"y","type":"quantitative","scale":{"domain":[-8.71,-0.08],"nice":false,"zero":false}}}},
{"data":{"name":"vl"},"transform":[{"filter":"datum.p==1"}],"mark":{"type":"rule","color":"#FFC61E","strokeWidth":2,"clip":true},"encoding":{"x":{"field":"x","type":"quantitative","scale":{"domain":[-8.26,0.375],"nice":false,"zero":false}},"strokeDash":{"field":"s","type":"nominal","scale":{"domain":["solid","dashed"],"range":[[1,0],[5,4]]},"legend":null}}},
{"data":{"name":"hl"},"transform":[{"filter":"datum.p==1"}],"mark":{"type":"rule","color":"#FFC61E","strokeWidth":2,"clip":true},"encoding":{"y":{"field":"y","type":"quantitative","scale":{"domain":[-8.71,-0.08],"nice":false,"zero":false}},"strokeDash":{"field":"s","type":"nominal","scale":{"domain":["solid","dashed"],"range":[[1,0],[5,4]]},"legend":null}}}
]},
{"width":326,"height":315,"layer":[
{"data":{"name":"gs"},"mark":{"type":"circle","size":64,"color":"#000","clip":true},"encoding":{"x":{"field":"x","type":"quantitative","scale":{"domain":[-8.26,0.375],"nice":false,"zero":false},"axis":{"values":[-8,-6,-4,-2,0],"title":"μα* (mas yr⁻¹)"}},"y":{"field":"y","type":"quantitative","scale":{"domain":[-8.71,-0.08],"nice":false,"zero":false},"axis":{"values":[-8,-6,-4,-2],"title":"μδ (mas yr⁻¹)"}},"opacity":{"field":"n","type":"quantitative","scale":{"domain":[1,2,3,5,7,9,12],"range":[0.18,0.34,0.48,0.66,0.78,0.86,0.92]},"legend":null}}},
{"data":{"name":"g"},"mark":{"type":"circle","size":18,"color":"#000","opacity":0.18,"clip":true},"encoding":{"x":{"field":"x","type":"quantitative","scale":{"domain":[-8.26,0.375],"nice":false,"zero":false}},"y":{"field":"y","type":"quantitative","scale":{"domain":[-8.71,-0.08],"nice":false,"zero":false}}}},
{"data":{"name":"cs"},"mark":{"type":"square","size":60,"color":"#1EC81E","opacity":1,"clip":true},"encoding":{"x":{"field":"x","type":"quantitative","scale":{"domain":[-8.26,0.375],"nice":false,"zero":false}},"y":{"field":"y","type":"quantitative","scale":{"domain":[-8.71,-0.08],"nice":false,"zero":false}}}},
{"data":{"name":"c"},"mark":{"type":"circle","size":22,"color":"#1EC81E","opacity":1,"clip":true},"encoding":{"x":{"field":"x","type":"quantitative","scale":{"domain":[-8.26,0.375],"nice":false,"zero":false}},"y":{"field":"y","type":"quantitative","scale":{"domain":[-8.71,-0.08],"nice":false,"zero":false}}}},
{"data":{"name":"vl"},"transform":[{"filter":"datum.p==2"}],"mark":{"type":"rule","color":"#FFC61E","strokeWidth":2,"clip":true},"encoding":{"x":{"field":"x","type":"quantitative","scale":{"domain":[-8.26,0.375],"nice":false,"zero":false}},"strokeDash":{"field":"s","type":"nominal","scale":{"domain":["solid","dashed"],"range":[[1,0],[5,4]]},"legend":null}}},
{"data":{"name":"hl"},"transform":[{"filter":"datum.p==2"}],"mark":{"type":"rule","color":"#FFC61E","strokeWidth":2,"clip":true},"encoding":{"y":{"field":"y","type":"quantitative","scale":{"domain":[-8.71,-0.08],"nice":false,"zero":false}},"strokeDash":{"field":"s","type":"nominal","scale":{"domain":["solid","dashed"],"range":[[1,0],[5,4]]},"legend":null}}}
]},
{"width":326,"height":315,"layer":[
{"data":{"name":"gs"},"mark":{"type":"circle","size":64,"color":"#000","clip":true},"encoding":{"x":{"field":"x","type":"quantitative","scale":{"domain":[-8.26,0.375],"nice":false,"zero":false},"axis":{"values":[-8,-6,-4,-2,0],"title":"μα* (mas yr⁻¹)"}},"y":{"field":"y","type":"quantitative","scale":{"domain":[-8.71,-0.08],"nice":false,"zero":false},"axis":{"values":[-8,-6,-4,-2],"title":"μδ (mas yr⁻¹)"}},"opacity":{"field":"n","type":"quantitative","scale":{"domain":[1,2,3,5,7,9,12],"range":[0.18,0.34,0.48,0.66,0.78,0.86,0.92]},"legend":null}}},
{"data":{"name":"g"},"mark":{"type":"circle","size":18,"color":"#000","opacity":0.18,"clip":true},"encoding":{"x":{"field":"x","type":"quantitative","scale":{"domain":[-8.26,0.375],"nice":false,"zero":false}},"y":{"field":"y","type":"quantitative","scale":{"domain":[-8.71,-0.08],"nice":false,"zero":false}}}},
{"data":{"name":"r"},"mark":{"type":"circle","size":22,"color":"#FF0000","opacity":1,"clip":true},"encoding":{"x":{"field":"x","type":"quantitative","scale":{"domain":[-8.26,0.375],"nice":false,"zero":false}},"y":{"field":"y","type":"quantitative","scale":{"domain":[-8.71,-0.08],"nice":false,"zero":false}}}},
{"data":{"name":"vl"},"transform":[{"filter":"datum.p==3"}],"mark":{"type":"rule","color":"#FFC61E","strokeWidth":2,"clip":true},"encoding":{"x":{"field":"x","type":"quantitative","scale":{"domain":[-8.26,0.375],"nice":false,"zero":false}},"strokeDash":{"field":"s","type":"nominal","scale":{"domain":["solid","dashed"],"range":[[1,0],[5,4]]},"legend":null}}},
{"data":{"name":"hl"},"transform":[{"filter":"datum.p==3"}],"mark":{"type":"rule","color":"#FFC61E","strokeWidth":2,"clip":true},"encoding":{"y":{"field":"y","type":"quantitative","scale":{"domain":[-8.71,-0.08],"nice":false,"zero":false}},"strokeDash":{"field":"s","type":"nominal","scale":{"domain":["solid","dashed"],"range":[[1,0],[5,4]]},"legend":null}}}
]}
],
"spacing":84,
"bounds":"flush",
"config":{
"view":{"stroke":"#333","strokeWidth":1},
"axis":{"grid":false,"domain":false,"tickColor":"#333","tickSize":5,"labelFont":"Liberation Sans","labelFontSize":11,"labelColor":"#000","titleFont":"Liberation Sans","titleFontSize":11,"titleFontWeight":"normal","titleColor":"#000","labelExpr":"'' + datum.value"},
"axisX":{"labelPadding":9,"titlePadding":7},
"axisY":{"labelAngle":-90,"labelAlign":"center","labelBaseline":"bottom","labelPadding":8,"titlePadding":10}
}
}
